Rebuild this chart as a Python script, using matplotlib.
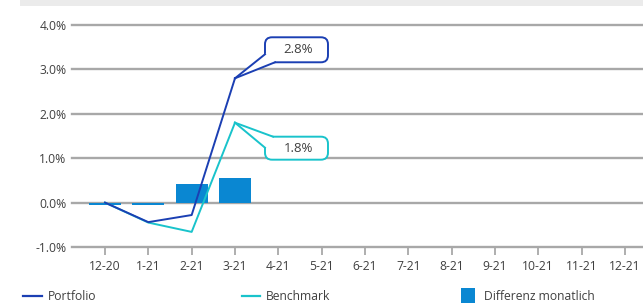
import matplotlib
matplotlib.use("Agg")
import matplotlib.pyplot as plt
from matplotlib.patches import FancyBboxPatch, Polygon, Rectangle
from matplotlib.lines import Line2D
from matplotlib.transforms import IdentityTransform

categories = ["12-20", "1-21", "2-21", "3-21", "4-21", "5-21", "6-21", "7-21",
              "8-21", "9-21", "10-21", "11-21", "12-21"]
portfolio = [0.0, -0.44, -0.28, 2.8]
benchmark = [0.0, -0.45, -0.66, 1.8]
differenz = [-0.05, -0.05, 0.43, 0.55]
yticks = [-1.0, 0.0, 1.0, 2.0, 3.0, 4.0]
ytick_labels = ["-1.0%", "0.0%", "1.0%", "2.0%", "3.0%", "4.0%"]
callouts = [("2.8%", 3, 2.8), ("1.8%", 3, 1.8)]

c_port = "#1b3fb3"
c_bench = "#19c3cb"
c_bar = "#0a87d2"
c_grid = "#a8a8a8"
c_text = "#404040"

plt.rcParams['font.family'] = ['Open Sans', 'DejaVu Sans']

W, H = 643, 304
fig = plt.figure(figsize=(W / 100, H / 100), dpi=100)
# top grey band
fig.patches.append(Rectangle((20 / W, 1 - 6 / H), 1, 6 / H, transform=fig.transFigure,
                             fc="#ebebeb", ec="none"))

left_px, right_px, top_px, bot_px = 72, 643, 25, 247
ax = fig.add_axes([left_px / W, 1 - bot_px / H, (right_px - left_px) / W, (bot_px - top_px) / H])
x = list(range(len(categories)))
sp = 43.33
ax.set_xlim(-(105 - left_px) / sp, (right_px - 105) / sp)
ax.set_ylim(-1.0, 4.0)

for s in ax.spines.values():
    s.set_visible(False)
for yv in yticks:
    ax.axhline(yv, color=c_grid, lw=1.7, zorder=1, clip_on=False)

ax.bar(x[:len(differenz)], differenz, width=0.74, color=c_bar, zorder=2)
ax.plot(x[:len(benchmark)], benchmark, color=c_bench, lw=1.4, zorder=3)
ax.plot(x[:len(portfolio)], portfolio, color=c_port, lw=1.4, zorder=4)

ax.set_yticks(yticks)
ax.set_yticklabels(ytick_labels)
ax.tick_params(axis='y', length=0, pad=4, labelsize=8.7, labelcolor=c_text)
ax.set_xticks(x)
ax.set_xticklabels(categories)
ax.tick_params(axis='x', length=6, width=1.3, color=c_grid, pad=3, labelsize=8.7, labelcolor=c_text)

# callouts (offsets in pixels from the data point)
fig.canvas.draw()
specs = [
    (c_port, (30, 16, 63, 25), [(30, 24), (40, 16)]),
    (c_bench, (30, -37, 63, 23), [(38, -14), (30, -25)]),
]
for (label, xi, yv), (col, (bx, by, bw, bh), tail) in zip(callouts, specs):
    tx, ty = ax.transData.transform((xi, yv))
    box = FancyBboxPatch((tx + bx, ty + by), bw, bh,
                         boxstyle="round,pad=0,rounding_size=7",
                         transform=IdentityTransform(), fc="white", ec=col, lw=1.4, zorder=6)
    fig.patches.append(box)
    p1 = (tx + tail[0][0], ty + tail[0][1])
    p2 = (tx + tail[1][0], ty + tail[1][1])
    fill = Polygon([(tx, ty), p1, (tx + bx + 4, ty + by + bh / 2), p2], closed=True,
                   transform=IdentityTransform(), fc="white", ec="none", zorder=7)
    fig.patches.append(fill)
    for p in (p1, p2):
        fig.lines.append(Line2D([tx, p[0]], [ty, p[1]], color=col, lw=1.4,
                                transform=IdentityTransform(), zorder=8))
    fig.text((tx + bx + bw / 2 + 2) / W, (ty + by + bh / 2) / H, label, ha="center", va="center",
             fontsize=9.5, color=c_text, zorder=9)

# legend
ly = 1 - 296 / H
fig.lines.append(Line2D([23 / W, 42 / W], [ly, ly], color=c_port, lw=1.6, transform=fig.transFigure))
fig.text(48 / W, ly, "Portfolio", va="center", ha="left", fontsize=8.7, color=c_text)
fig.lines.append(Line2D([242 / W, 260 / W], [ly, ly], color=c_bench, lw=1.6, transform=fig.transFigure))
fig.text(266 / W, ly, "Benchmark", va="center", ha="left", fontsize=8.7, color=c_text)
fig.patches.append(Rectangle((461 / W, 1 - 303 / H), 14 / W, 15 / H, transform=fig.transFigure,
                             fc=c_bar, ec="none"))
fig.text(484 / W, ly, "Differenz monatlich", va="center", ha="left", fontsize=8.7, color=c_text)

fig.savefig("out.png", dpi=100)
